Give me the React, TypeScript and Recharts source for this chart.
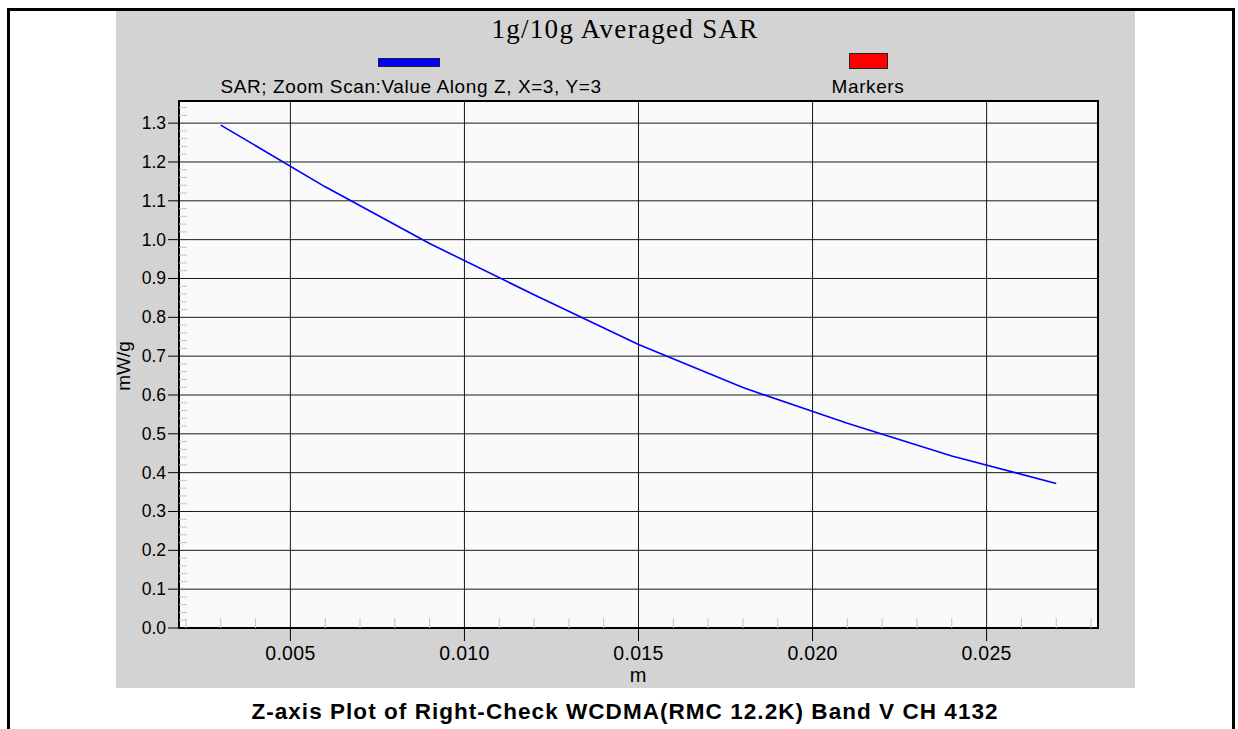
import React from "react";
import {
  LineChart,
  Line,
  XAxis,
  YAxis,
  CartesianGrid,
  ReferenceArea,
} from "recharts";

// distance along Z (m) and averaged SAR (mW/g)
const zPositions = [0.003, 0.006, 0.009, 0.012, 0.015, 0.018, 0.021, 0.024, 0.027];
const sarValues = [1.295, 1.136, 0.99, 0.858, 0.73, 0.619, 0.527, 0.443, 0.372];

const xMajorTicks = [0.005, 0.01, 0.015, 0.02, 0.025];
const xMinorTicks = [
  0.002, 0.003, 0.004, 0.006, 0.007, 0.008, 0.009, 0.011, 0.012, 0.013, 0.014,
  0.016, 0.017, 0.018, 0.019, 0.021, 0.022, 0.023, 0.024, 0.026, 0.027, 0.028,
];
const yMajorTicks = [0, 0.1, 0.2, 0.3, 0.4, 0.5, 0.6, 0.7, 0.8, 0.9, 1.0, 1.1, 1.2, 1.3];
const yMinorTicks: number[] = [];
for (let i = 1; i <= 67; i++) {
  if (i % 5 !== 0) yMinorTicks.push(Math.round(i * 2) / 100);
}

const xDomain = [0.0018, 0.0282];
const yDomain = [0, 1.357];

const chartData = zPositions.map((z, i) => ({ z, sar: sarValues[i] }));

const SANS = '"Liberation Sans", Arial, sans-serif';

const isMajor = (list: number[], v: number) => list.some((t) => Math.abs(t - v) < 1e-9);

const XTick = (props: any) => {
  const { x, y, payload } = props;
  const v = payload.value as number;
  if (isMajor(xMajorTicks, v)) {
    return (
      <g>
        <line x1={x} y1={y} x2={x} y2={y + 13} stroke="#000" strokeWidth={1} />
        <text
          x={x}
          y={y + 32}
          textAnchor="middle"
          fontFamily={SANS}
          fontSize={19.5}
          letterSpacing={0.3}
          fill="#000"
        >
          {v.toFixed(3)}
        </text>
      </g>
    );
  }
  return <line x1={x} y1={y} x2={x} y2={y - 10} stroke="#c4c4c4" strokeWidth={1} />;
};

const YTick = (props: any) => {
  const { x, y, payload } = props;
  const v = payload.value as number;
  if (isMajor(yMajorTicks, v)) {
    return (
      <g>
        <line x1={x - 11} y1={y} x2={x} y2={y} stroke="#000" strokeWidth={1} />
        <text
          x={x - 13}
          y={y + 6}
          textAnchor="end"
          fontFamily={SANS}
          fontSize={17.5}
          fill="#000"
        >
          {v.toFixed(1)}
        </text>
      </g>
    );
  }
  return <line x1={x} y1={y} x2={x + 8} y2={y} stroke="#c4c4c4" strokeWidth={1} />;
};

export default function App() {
  return (
    <div
      style={{
        position: "absolute",
        left: 0,
        top: 0,
        width: 1238,
        height: 729,
        overflow: "hidden",
        background: "#fff",
      }}
    >
      {/* outer frame */}
      <div
        style={{
          position: "absolute",
          left: 7,
          top: 8,
          width: 1228,
          height: 760,
          boxSizing: "border-box",
          border: "3px solid #000",
        }}
      />
      {/* gray panel */}
      <div
        style={{
          position: "absolute",
          left: 116,
          top: 11,
          width: 1019,
          height: 677,
          background: "#d3d3d3",
        }}
      />

      <div
        style={{
          position: "absolute",
          left: 290,
          width: 670,
          top: 16,
          textAlign: "center",
          lineHeight: 1,
          fontFamily: '"Liberation Serif", "Times New Roman", serif',
          fontSize: 27,
          letterSpacing: 1.3,
          color: "#000",
        }}
      >
        1g/10g Averaged SAR
      </div>

      {/* legend */}
      <div
        style={{
          position: "absolute",
          left: 378,
          top: 58,
          width: 62,
          height: 9,
          boxSizing: "border-box",
          background: "#0000ff",
          border: "1px solid #222",
        }}
      />
      <div
        style={{
          position: "absolute",
          left: 849,
          top: 53,
          width: 39,
          height: 16,
          boxSizing: "border-box",
          background: "#ff0000",
          border: "1px solid #222",
        }}
      />
      <div
        style={{
          position: "absolute",
          left: 111,
          width: 600,
          top: 77,
          textAlign: "center",
          lineHeight: 1,
          fontFamily: SANS,
          fontSize: 19,
          letterSpacing: 0.6,
          whiteSpace: "nowrap",
        }}
      >
        SAR; Zoom Scan:Value Along Z, X=3, Y=3
      </div>
      <div
        style={{
          position: "absolute",
          left: 768,
          width: 200,
          top: 77,
          textAlign: "center",
          lineHeight: 1,
          fontFamily: SANS,
          fontSize: 19,
          letterSpacing: 0.6,
          whiteSpace: "nowrap",
        }}
      >
        Markers
      </div>

      <div style={{ position: "absolute", left: 116, top: 11 }}>
        <LineChart
          width={1019}
          height={677}
          data={chartData}
          margin={{ top: 90, right: 37, left: 0, bottom: 0 }}
        >
          <CartesianGrid
            fill="#fafafa"
            stroke="#1a1a1a"
            strokeWidth={1}
            horizontalValues={yMajorTicks}
            verticalValues={xMajorTicks}
          />
          <XAxis
            dataKey="z"
            type="number"
            domain={xDomain}
            allowDataOverflow
            ticks={[...xMinorTicks, ...xMajorTicks]}
            interval={0}
            tick={<XTick />}
            tickLine={false}
            axisLine={false}
            tickSize={0}
            tickMargin={0}
            height={60}
          />
          <YAxis
            type="number"
            domain={yDomain}
            allowDataOverflow
            ticks={[...yMinorTicks, ...yMajorTicks]}
            interval={0}
            tick={<YTick />}
            tickLine={false}
            axisLine={false}
            tickSize={0}
            tickMargin={0}
            width={63}
          />
          <Line
            type="linear"
            dataKey="sar"
            stroke="#0000ff"
            strokeWidth={1.6}
            dot={false}
            isAnimationActive={false}
          />
          <ReferenceArea
            x1={xDomain[0]}
            x2={xDomain[1]}
            y1={yDomain[0]}
            y2={yDomain[1]}
            fill="none"
            stroke="#000"
            strokeWidth={2}
          />
        </LineChart>
      </div>

      {/* axis titles */}
      <div
        style={{
          position: "absolute",
          left: 124 - 50,
          top: 366 - 10,
          width: 100,
          height: 20,
          lineHeight: "20px",
          textAlign: "center",
          transform: "rotate(-90deg)",
          fontFamily: SANS,
          fontSize: 19,
          whiteSpace: "nowrap",
        }}
      >
        mW/g
      </div>
      <div
        style={{
          position: "absolute",
          left: 538,
          width: 200,
          top: 665,
          textAlign: "center",
          lineHeight: 1,
          fontFamily: SANS,
          fontSize: 20,
        }}
      >
        m
      </div>

      <div
        style={{
          position: "absolute",
          left: 125,
          width: 1000,
          top: 701,
          textAlign: "center",
          lineHeight: 1,
          fontFamily: SANS,
          fontWeight: "bold",
          fontSize: 22.5,
          letterSpacing: 1.05,
          whiteSpace: "nowrap",
        }}
      >
        Z-axis Plot of Right-Check WCDMA(RMC 12.2K) Band V CH 4132
      </div>
    </div>
  );
}
